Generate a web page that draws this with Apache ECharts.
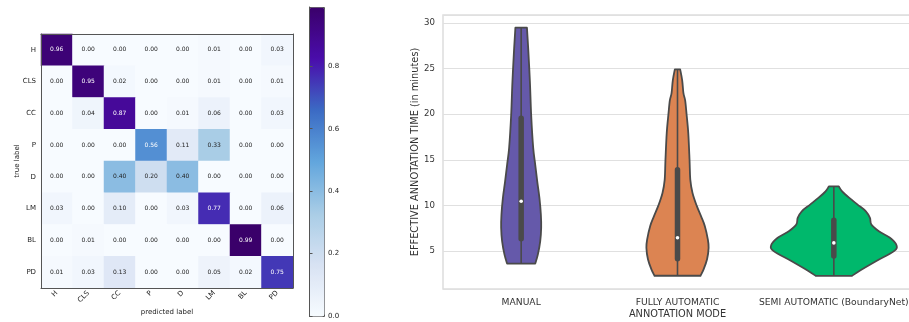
<!DOCTYPE html>
<html>
<head>
<meta charset="utf-8">
<script src="https://cdn.jsdelivr.net/npm/echarts@6/dist/echarts.min.js"></script>
<style>
  html, body { margin: 0; padding: 0; background: #fff; }
  #main { width: 909px; height: 322px; }
</style>
</head>
<body>
<div id="main"></div>
<script>
// confusion matrix
var predLabels = ['H', 'CLS', 'CC', 'P', 'D', 'LM', 'BL', 'PD'];
var trueLabels = ['H', 'CLS', 'CC', 'P', 'D', 'LM', 'BL', 'PD'];
var confusion = [
  [0.96, 0.00, 0.00, 0.00, 0.00, 0.01, 0.00, 0.03],
  [0.00, 0.95, 0.02, 0.00, 0.00, 0.01, 0.00, 0.01],
  [0.00, 0.04, 0.87, 0.00, 0.01, 0.06, 0.00, 0.03],
  [0.00, 0.00, 0.00, 0.56, 0.11, 0.33, 0.00, 0.00],
  [0.00, 0.00, 0.40, 0.20, 0.40, 0.00, 0.00, 0.00],
  [0.03, 0.00, 0.10, 0.00, 0.03, 0.77, 0.00, 0.06],
  [0.00, 0.01, 0.00, 0.00, 0.00, 0.00, 0.99, 0.00],
  [0.01, 0.03, 0.13, 0.00, 0.00, 0.05, 0.02, 0.75]
];
var colorbarTicks = [0, 0.2, 0.4, 0.6, 0.8];

// violin plot
var modes = ['MANUAL', 'FULLY AUTOMATIC', 'SEMI AUTOMATIC (BoundaryNet)'];
var manualLevels = [3.63, 4.64, 6.1, 7.55, 9.0, 10.8, 12.6, 14.45, 16.3, 19.9, 23.5, 27.2, 29.46];
var manualHalf = [0.090, 0.107, 0.122, 0.128, 0.126, 0.117, 0.103, 0.090, 0.077, 0.064, 0.056, 0.045, 0.037];
var fullyLevels = [2.3, 3.0, 4.1, 5.37, 6.28, 7.73, 8.8, 10.0, 11.36, 12.8, 15.0, 17.9, 20.0, 21.5, 22.3, 23.7, 24.9];
var fullyHalf = [0.147, 0.167, 0.189, 0.199, 0.194, 0.175, 0.151, 0.122, 0.096, 0.082, 0.077, 0.069, 0.058, 0.049, 0.038, 0.030, 0.017];
var semiLevels = [2.28, 2.82, 3.91, 5.0, 5.65, 6.46, 7.18, 7.91, 8.64, 9.36, 10.09, 10.82, 11.54, 12.08];
var semiHalf = [0.115, 0.163, 0.272, 0.385, 0.401, 0.359, 0.288, 0.240, 0.231, 0.205, 0.152, 0.099, 0.053, 0.032];
var whiskerLow = [3.63, 2.28, 2.28];
var whiskerHigh = [29.46, 24.9, 12.08];
var q1 = [6.35, 4.17, 4.46];
var q3 = [19.54, 13.9, 8.38];
var medians = [10.45, 6.46, 5.9];

var violinColors = ['#6559aa', '#dc8452', '#00b86c'];
var profiles = [
  { levels: manualLevels, half: manualHalf },
  { levels: fullyLevels, half: fullyHalf },
  { levels: semiLevels, half: semiHalf }
];

var chart = echarts.init(document.getElementById('main'));

var heatData = [];
confusion.forEach(function (row, r) {
  row.forEach(function (v, c) {
    heatData.push({
      value: [c, r, v],
      label: { color: v > 0.495 ? '#ffffff' : '#222222' }
    });
  });
});

// smooth curve through the points (catmull-rom as cubic beziers)
function curveThrough(pts) {
  var d = '';
  for (var k = 0; k < pts.length - 1; k++) {
    var p0 = pts[k - 1] || pts[k], p1 = pts[k], p2 = pts[k + 1], p3 = pts[k + 2] || p2;
    var c1 = [p1[0] + (p2[0] - p0[0]) / 6, p1[1] + (p2[1] - p0[1]) / 6];
    var c2 = [p2[0] - (p3[0] - p1[0]) / 6, p2[1] - (p3[1] - p1[1]) / 6];
    d += ' C' + c1[0] + ',' + c1[1] + ' ' + c2[0] + ',' + c2[1] + ' ' + p2[0] + ',' + p2[1];
  }
  return d;
}

function renderViolin(params, api) {
  var i = params.dataIndex;
  var prof = profiles[i];
  var band = api.size([1, 0])[0];
  var cx = api.coord([i, medians[i]])[0];
  var right = [], left = [];
  for (var k = 0; k < prof.levels.length; k++) {
    var y = api.coord([i, prof.levels[k]])[1];
    right.push([cx + prof.half[k] * band, y]);
    left.unshift([cx - prof.half[k] * band, y]);
  }
  var d = 'M' + right[0][0] + ',' + right[0][1] + curveThrough(right) +
    ' L' + left[0][0] + ',' + left[0][1] + curveThrough(left) + ' Z';
  var lo = api.coord([i, whiskerLow[i]])[1];
  var hi = api.coord([i, whiskerHigh[i]])[1];
  var b1 = api.coord([i, q1[i]])[1];
  var b3 = api.coord([i, q3[i]])[1];
  var md = api.coord([i, medians[i]])[1];
  return {
    type: 'group',
    children: [
      {
        type: 'path',
        shape: { pathData: d },
        style: { fill: violinColors[i], stroke: '#4a4a4a', lineWidth: 1.8, lineJoin: 'round' }
      },
      {
        type: 'line',
        shape: { x1: cx, y1: lo, x2: cx, y2: hi },
        style: { stroke: '#4a4a4a', lineWidth: 1.6 }
      },
      {
        type: 'line',
        shape: { x1: cx, y1: b1, x2: cx, y2: b3 },
        style: { stroke: '#4a4a4a', lineWidth: 5.5, lineCap: 'round' }
      },
      {
        type: 'circle',
        shape: { cx: cx, cy: md, r: 1.8 },
        style: { fill: '#ffffff' }
      }
    ]
  };
}

var option = {
  textStyle: { fontFamily: 'DejaVu Sans' },
  animation: false,
  grid: [
    { left: 41, top: 34, width: 252, height: 254, outerBoundsMode: 'none' },
    { left: 309, top: 7, width: 15, height: 309, outerBoundsMode: 'none' },
    {
      left: 443, top: 15, width: 469, height: 274, outerBoundsMode: 'none',
      show: true, borderColor: '#dddddd', borderWidth: 1.5
    }
  ],
  xAxis: [
    {
      gridIndex: 0, type: 'category', data: predLabels, z: 10,
      name: 'predicted label', nameLocation: 'middle', nameGap: 21, nameMoveOverlap: false,
      nameTextStyle: { fontSize: 7, color: '#222' },
      axisLine: { lineStyle: { color: '#555', width: 1 } },
      axisTick: { alignWithLabel: true, length: 3.5, lineStyle: { color: '#555' } },
      axisLabel: { rotate: 45, fontSize: 7, color: '#222', margin: 4, interval: 0 },
      splitLine: { show: false }
    },
    {
      gridIndex: 0, type: 'category', data: predLabels, position: 'top', z: 10,
      axisLine: { lineStyle: { color: '#555', width: 1 } },
      axisTick: { show: false }, axisLabel: { show: false }
    },
    { gridIndex: 1, type: 'value', show: false },
    {
      gridIndex: 2, type: 'category', data: modes,
      name: 'ANNOTATION MODE', nameLocation: 'middle', nameGap: 20, nameMoveOverlap: false,
      nameTextStyle: { fontSize: 9.8, color: '#333' },
      axisLine: { show: false }, axisTick: { show: false },
      axisLabel: { fontSize: 9.2, color: '#333', margin: 9, interval: 0 }
    }
  ],
  yAxis: [
    {
      gridIndex: 0, type: 'category', data: trueLabels, inverse: true, z: 10,
      name: 'true label', nameLocation: 'middle', nameGap: 20, nameMoveOverlap: false,
      nameTextStyle: { fontSize: 7, color: '#222' },
      axisLine: { lineStyle: { color: '#555', width: 1 } },
      axisTick: { alignWithLabel: true, length: 3.5, lineStyle: { color: '#555' } },
      axisLabel: { fontSize: 7, color: '#222', margin: 5, interval: 0 }
    },
    {
      gridIndex: 0, type: 'category', data: trueLabels, inverse: true, position: 'right', z: 10,
      axisLine: { lineStyle: { color: '#555', width: 1 } },
      axisTick: { show: false }, axisLabel: { show: false }
    },
    {
      gridIndex: 1, type: 'value', min: 0, max: 0.99, position: 'right', z: 10,
      axisLine: { show: true, lineStyle: { color: '#555' } },
      axisTick: { show: true, length: 3.5, customValues: colorbarTicks, lineStyle: { color: '#555' } },
      axisLabel: {
        fontSize: 7, color: '#222', margin: 4, customValues: colorbarTicks,
        formatter: function (v) { return v.toFixed(1); }
      },
      splitLine: { show: false }
    },
    {
      gridIndex: 2, type: 'value', min: 0.85, max: 30.85, splitNumber: 6,
      name: 'EFFECTIVE ANNOTATION TIME (in minutes)', nameLocation: 'middle', nameGap: 23,
      nameMoveOverlap: false,
      nameTextStyle: { fontSize: 9.8, color: '#333' },
      axisLine: { show: false }, axisTick: { show: false },
      axisLabel: { fontSize: 8.6, color: '#333', margin: 8, showMinLabel: false, showMaxLabel: false },
      splitLine: { lineStyle: { color: '#e0e0e0', width: 1.2 } }
    }
  ],
  visualMap: {
    type: 'continuous', min: 0, max: 0.99, seriesIndex: 0,
    left: 309, top: 7, itemWidth: 15, itemHeight: 309, padding: 0,
    calculable: false, showLabel: false, text: null,
    borderColor: '#555', borderWidth: 1,
    inRange: { color: ['#f7fbff', '#d8e2f3', '#a9cde6', '#62a6dd', '#3b6bc4', '#4a0dab', '#3a006a'] }
  },
  series: [
    {
      type: 'heatmap', xAxisIndex: 0, yAxisIndex: 0, data: heatData,
      label: {
        show: true, fontSize: 6,
        formatter: function (p) { return p.value[2].toFixed(2); }
      }
    },
    {
      type: 'custom', xAxisIndex: 3, yAxisIndex: 3,
      renderItem: renderViolin,
      encode: { x: 0, y: 1 },
      data: medians.map(function (m, i) { return [i, m]; })
    }
  ]
};

chart.setOption(option);
</script>
</body>
</html>
